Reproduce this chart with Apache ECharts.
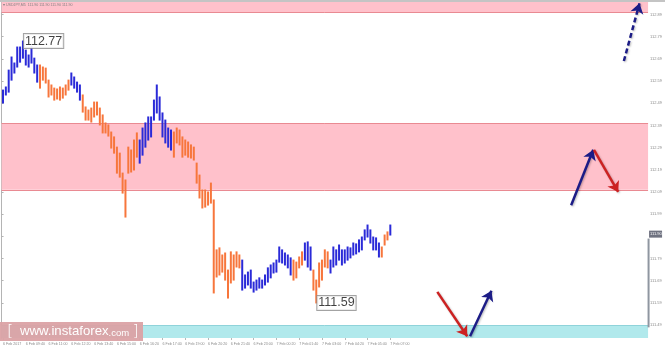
<!DOCTYPE html>
<html><head><meta charset="utf-8">
<script src="https://cdn.jsdelivr.net/npm/echarts@6/dist/echarts.min.js"></script>
<style>html,body{margin:0;padding:0;background:#fff}#c{width:665px;height:347px}</style>
</head><body><div id="c"></div>
<script>
// ---- data (USDJPY M5, 10-minute steps, each step = 2 bars) ----
const highs = [112.549,112.563,112.639,112.698,112.671,112.743,112.743,112.770,112.729,112.707,
112.743,112.693,112.662,112.662,112.653,112.648,112.594,112.572,112.558,112.554,
112.563,112.558,112.572,112.594,112.626,112.608,112.585,112.572,112.527,112.473,
112.459,112.468,112.495,112.495,112.468,112.437,112.401,112.392,112.360,112.338,
112.292,112.265,112.175,112.144,112.292,112.279,112.324,112.356,112.324,112.378,
112.401,112.428,112.428,112.504,112.572,112.518,112.446,112.414,112.378,112.369,
112.360,112.378,112.369,112.338,112.324,112.315,112.302,112.292,112.220,112.166,
112.099,112.099,112.090,112.130,112.054,111.829,111.838,111.806,111.815,111.738,
111.820,111.806,111.820,111.806,111.783,111.716,111.729,111.738,111.684,111.693,
111.703,111.693,111.716,111.748,111.761,111.770,111.783,111.842,111.829,111.815,
111.806,111.793,111.783,111.774,111.797,111.820,111.860,111.865,111.842,111.738,
111.693,111.770,111.783,111.829,111.820,111.783,111.842,111.829,111.851,111.829,
111.829,111.842,111.838,111.860,111.856,111.874,111.887,111.919,111.941,111.919,
111.887,111.883,111.860,111.842,111.896,111.910,111.941];
const lows = [112.491,112.527,112.540,112.594,112.626,112.653,112.675,112.693,112.662,112.653,
112.671,112.626,112.585,112.558,112.594,112.581,112.518,112.527,112.504,112.509,
112.504,112.513,112.527,112.549,112.572,112.558,112.540,112.504,112.450,112.414,
112.414,112.405,112.428,112.437,112.392,112.356,112.356,112.342,112.288,112.265,
112.175,112.157,112.085,111.977,112.175,112.180,112.189,112.247,112.220,112.256,
112.292,112.324,112.338,112.414,112.446,112.414,112.338,112.311,112.292,112.279,
112.247,112.311,112.302,112.247,112.256,112.247,112.243,112.234,112.130,112.063,
112.018,112.022,112.031,112.040,111.635,111.707,111.716,111.729,111.693,111.612,
111.680,111.693,111.752,111.748,111.648,111.657,111.671,111.657,111.639,111.648,
111.657,111.657,111.671,111.684,111.703,111.725,111.729,111.774,111.770,111.761,
111.748,111.716,111.693,111.703,111.748,111.761,111.783,111.752,111.738,111.648,
111.590,111.662,111.693,111.752,111.748,111.725,111.752,111.761,111.783,111.761,
111.770,111.783,111.793,111.806,111.811,111.820,111.829,111.874,111.887,111.860,
111.829,111.829,111.797,111.797,111.851,111.874,111.896];
// zigzag waves: first step index of each wave and its direction (1 = up/blue, 0 = down/orange)
const waveStarts = [0,13,24,28,48,60,84,102,106,109,115,133,136];
const waveUp     = [1,0,1,0,1,0,1,0,1,0,1,0,1];
// labelled extremes (bar index, price)
const extremeBars = [15,221];
const extremePrices = [112.77,111.59];
// tick labels
const xTickBars = [1,17,33,49,65,81,97,113,129,145,161,177,193,209,225,241,257,273];
const xTickLabels = ['6 Feb 2017','6 Feb 09:40','6 Feb 11:00','6 Feb 12:20','6 Feb 13:40','6 Feb 15:00',
 '6 Feb 16:20','6 Feb 17:40','6 Feb 19:00','6 Feb 20:20','6 Feb 21:40','6 Feb 23:00','7 Feb 00:20',
 '7 Feb 01:40','7 Feb 03:00','7 Feb 04:20','7 Feb 05:40','7 Feb 07:00'];
const yTicks = [111.49,111.59,111.69,111.79,111.89,111.99,112.09,112.19,112.29,112.39,112.49,112.59,112.69,112.79,112.89];
// zones
const pinkZones = [[112.96,112.90],[112.40,112.10]];
const cyanZone = [111.486,111.43];
const lastPrice = 111.90;
// arrows (bar index, price)
const arrowFrom = [[437,112.68],[400,112.03],[416,112.28],[306,111.64],[329,111.44]];
const arrowTo   = [[448,112.94],[415.5,112.28],[433,112.09],[327,111.44],[344,111.645]];
const arrowKind = ['upDash','up','down','down','up'];

const BLUE = '#2a2ad8', ORANGE = '#f7763c', NAVY = '#1c1c86', RED = '#cc2222';

function waveOf(k){ let d = 1; for (let i=0;i<waveStarts.length;i++){ if (k>=waveStarts[i]) d = waveUp[i]; } return d; }
const priceData = highs.map((h,k)=>[2*k+1, h, lows[k], waveOf(k)]);

const chart = echarts.init(document.getElementById('c'));
const Y_MIN = 111.432, Y_MAX = 112.946;
chart.setOption({
  animation:false,
  grid:{left:0,right:14,top:2,bottom:9},
  xAxis:{type:'value',min:0,max:454,
    axisLine:{show:false},
    axisTick:{show:true,length:2,lineStyle:{color:'#b8b8b8'},customValues:xTickBars},
    splitLine:{show:false},
    axisLabel:{customValues:xTickBars,fontSize:3.6,color:'#8a8a8a',align:'left',margin:3.5,
      fontFamily:'Liberation Sans',hideOverlap:false,
      formatter:v=>{const i=xTickBars.indexOf(v);return i>=0?xTickLabels[i]:'';}}},
  yAxis:{type:'value',position:'right',min:Y_MIN,max:Y_MAX,scale:true,
    axisLine:{show:true,lineStyle:{color:'#b4b4b4',width:1}},
    axisTick:{show:true,length:2,lineStyle:{color:'#b4b4b4'},customValues:yTicks},
    splitLine:{show:false},
    axisLabel:{customValues:yTicks,fontSize:4,color:'#8a8a8a',margin:2,fontFamily:'Liberation Sans',
      formatter:v=>v.toFixed(2)}},
  series:[
    {type:'line',data:[],silent:true,
      markArea:{silent:true,itemStyle:{color:'#ffc1cb'},
        data:pinkZones.map(z=>[{yAxis:z[0]},{yAxis:z[1]}]).concat([[{yAxis:cyanZone[0],itemStyle:{color:'#b1e9ec'}},{yAxis:cyanZone[1]}]])},
      markLine:{silent:true,symbol:'none',label:{show:false},
        lineStyle:{color:'#e98a92',width:1,type:'solid'},
        data:[{yAxis:pinkZones[0][1]},{yAxis:pinkZones[1][0]},{yAxis:pinkZones[1][1]},
              {yAxis:cyanZone[0],lineStyle:{color:'#8fd3da'}}]}},
    {type:'custom',data:priceData,clip:true,z:5,
      encode:{x:0,y:[1,2]},
      renderItem:function(params,api){
        const x=api.value(0),h=api.value(1),l=api.value(2),u=api.value(3);
        const p1=api.coord([x,h]),p2=api.coord([x,l]);
        return {type:'line',shape:{x1:p1[0],y1:p1[1]-0.5,x2:p2[0],y2:p2[1]+0.5},
          style:{stroke:u?BLUE:ORANGE,lineWidth:2}};
      }},
    {type:'scatter',z:8,symbolSize:0,
      data:extremeBars.map((b,i)=>[b,extremePrices[i]]),
      label:{show:true,position:'right',distance:1,formatter:p=>p.data[1].toFixed(2),
        fontSize:12.5,color:'#111',fontFamily:'Liberation Sans',backgroundColor:'#fff',
        borderColor:'#8c8c8c',borderWidth:1,padding:[1,1,0,1]}},
    {type:'lines',coordinateSystem:'cartesian2d',z:10,polyline:false,
      symbol:['none','arrow'],symbolSize:[0,10],
      lineStyle:{width:2.5,opacity:1,curveness:0,shadowColor:'rgba(0,0,0,0.25)',shadowBlur:2,shadowOffsetX:1,shadowOffsetY:1},
      data:arrowFrom.map((f,i)=>({coords:[f,arrowTo[i]],
        lineStyle:{color:arrowKind[i]==='down'?RED:NAVY,type:arrowKind[i]==='upDash'?[5,3]:'solid'}}))}
  ]
});

const pLast = chart.convertToPixel({xAxisIndex:0,yAxisIndex:0},[454,lastPrice]);
const pA = chart.convertToPixel({xAxisIndex:0,yAxisIndex:0},[454,111.88]);
const pB = chart.convertToPixel({xAxisIndex:0,yAxisIndex:0},[454,111.48]);
chart.setOption({graphic:[
  {type:'rect',left:0,top:0,shape:{width:665,height:2},style:{fill:'#c4c4c4'},z:20},
  {type:'text',left:3,top:3,style:{text:'\u25BE USDJPY,M5  111.90 111.90 111.90 111.90',fontSize:3.6,fill:'#808080',fontFamily:'Liberation Sans'},z:20},
  {type:'line',shape:{x1:pA[0]+0.5,y1:pA[1],x2:pB[0]+0.5,y2:pB[1]},style:{stroke:'#8f96a0',lineWidth:2},z:20},
  {type:'rect',shape:{x:pLast[0]+1,y:pLast[1]-3.5,width:13,height:7},style:{fill:'#6f7280'},z:21},
  {type:'text',x:pLast[0]+2,y:pLast[1],style:{text:lastPrice.toFixed(2),fontSize:4,fill:'#fff',verticalAlign:'middle',fontFamily:'Liberation Sans'},z:22},
  {type:'rect',shape:{x:0,y:322,width:143,height:19},style:{fill:'#dba2a5',opacity:0.95},z:20},
  {type:'text',x:7,y:331.5,z:21,style:{
    text:'{b|[}  {w|www.instaforex}{c|.com} {b|]}',verticalAlign:'middle',
    rich:{b:{fontSize:16,fill:'#ffffff',fontFamily:'DejaVu Sans',fontWeight:'lighter'},
          w:{fontSize:13.2,fill:'#ffffff',fontFamily:'Liberation Sans'},
          c:{fontSize:9.5,fill:'#ffffff',fontFamily:'Liberation Sans',padding:[3,0,0,0]}}}}
]});
</script></body></html>
